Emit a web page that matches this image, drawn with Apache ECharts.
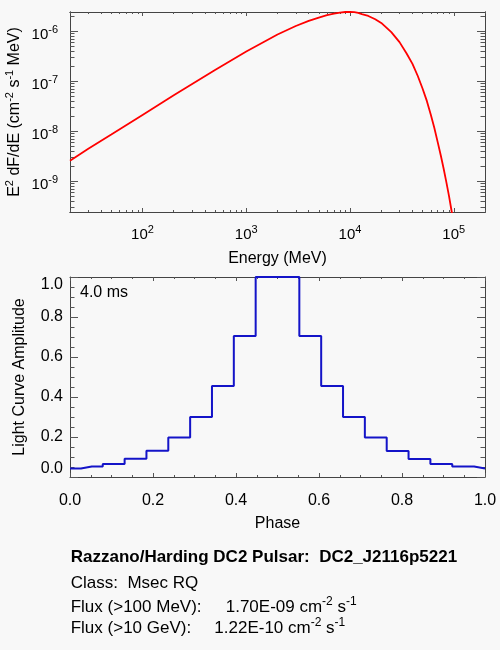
<!DOCTYPE html>
<html>
<head>
<meta charset="utf-8">
<script src="https://cdn.jsdelivr.net/npm/echarts@6/dist/echarts.min.js"></script>
<style>
html, body { margin: 0; padding: 0; background: #f8f8f8; }
#chart { width: 500px; height: 650px; }
</style>
</head>
<body>
<div id="chart"></div>
<script>
// spectrum: energy (MeV) and E^2 dF/dE
var energy = [20, 30, 50, 100, 200, 500, 1000, 2000, 3000, 4000, 5000, 6000, 7000, 8000, 9000, 10000,
    11000, 12000, 13000, 15000, 17500, 20000, 25000, 30000, 35000, 40000, 45000, 50000, 55000,
    60000, 65000, 70000, 75000, 80000, 85000, 90000, 95000, 100000];
var e2dfde = [2.55e-9, 4.4e-9, 8.5e-9, 2.1e-8, 5.2e-8, 1.66e-7, 3.9e-7, 8.5e-7, 1.26e-6, 1.60e-6, 1.86e-6, 2.07e-6, 2.22e-6, 2.33e-6, 2.40e-6, 2.40e-6,
    2.38e-6, 2.30e-6, 2.17e-6, 2.0e-6, 1.72e-6, 1.45e-6, 9.5e-7, 6.0e-7, 3.6e-7, 2.2e-7, 1.26e-7, 7.1e-8, 4.0e-8,
    2.14e-8, 1.15e-8, 6.0e-9, 3.24e-9, 1.74e-9, 9.3e-10, 5.0e-10, 2.6e-10, 1.4e-10];

// light curve (histogram, one value per phase bin centre)
var phase = [0, 0.0526, 0.1053, 0.1579, 0.2105, 0.2632, 0.3158, 0.3684, 0.4211, 0.4737,
    0.5263, 0.5789, 0.6316, 0.6842, 0.7368, 0.7895, 0.8421, 0.8947, 0.9474, 1.0];
var amplitude = [0.042, 0.052, 0.065, 0.091, 0.131, 0.198, 0.300, 0.455, 0.705, 1.0,
    1.0, 0.705, 0.455, 0.300, 0.198, 0.130, 0.090, 0.065, 0.052, 0.043];

// tick labels
var energyTicks = [100, 1000, 10000, 100000];
var fluxTicks = [1e-9, 1e-8, 1e-7, 1e-6];
var phaseTicks = [0, 0.2, 0.4, 0.6, 0.8, 1.0];
var ampTicks = [0, 0.2, 0.4, 0.6, 0.8, 1.0];

var FONT = 'Liberation Sans, Arial, Helvetica, sans-serif';
var LINE = '#444';
var TICK = '#555';

// 2..9 x 10^n between two decades, for the log minor ticks
function minorsOf(nFrom, nTo) {
    var out = [];
    for (var n = nFrom; n <= nTo; n++) {
        for (var k = 2; k <= 9; k++) out.push(k * Math.pow(10, n));
    }
    return out;
}

function powLabel(v) {
    var n = Math.round(Math.log10(v));
    return '10{sup|' + n + '}';
}

var supRich = { sup: { fontSize: 11, lineHeight: 10, verticalAlign: 'top', fontFamily: FONT, color: '#000' } };

// tick lengths like IDL: ticks on the y axes are longer (2% of the plot width)
function tickLen(pos, minor) {
    var vertical = (pos === 'left' || pos === 'right');
    if (vertical) return minor ? 4.5 : 8;
    return minor ? 2 : 4;
}

function baseAxis(extra) {
    var a = {
        gridIndex: 0,
        splitLine: { show: false },
        axisLine: { show: true, onZero: false, lineStyle: { color: LINE, width: 1 } },
        axisTick: { show: true, inside: true, length: 6, lineStyle: { color: TICK } },
        axisLabel: { show: false },
        minorTick: { show: false },
        nameMoveOverlap: false,
        nameTextStyle: { fontFamily: FONT, fontSize: 16, color: '#000' }
    };
    for (var k in extra) a[k] = extra[k];
    return a;
}

// log axis pair (major+labels, minor) on one side
function logAxes(grid, pos, min, max, majors, minors, labelOpts, nameOpts) {
    var major = baseAxis({
        gridIndex: grid, type: 'log', logBase: 10, position: pos, min: min, max: max,
        axisTick: { show: true, inside: true, length: tickLen(pos, false), customValues: majors, lineStyle: { color: TICK } }
    });
    if (labelOpts) {
        major.axisLabel = Object.assign({
            show: true, customValues: majors, formatter: powLabel,
            fontFamily: FONT, fontSize: 15, color: '#000', lineHeight: 22, rich: supRich
        }, labelOpts);
    }
    if (nameOpts) Object.assign(major, nameOpts);
    var minor = baseAxis({
        gridIndex: grid, type: 'log', logBase: 10, position: pos, min: min, max: max,
        axisTick: { show: true, inside: true, length: tickLen(pos, true), customValues: minors, lineStyle: { color: TICK } }
    });
    return [major, minor];
}

function linAxis(grid, pos, labelOpts, nameOpts) {
    var a = baseAxis({
        gridIndex: grid, type: 'value', position: pos, min: 0, max: 1, interval: 0.2,
        axisTick: { show: true, inside: true, length: tickLen(pos, false), lineStyle: { color: TICK } },
        minorTick: { show: true, splitNumber: 4, length: tickLen(pos, true), lineStyle: { color: TICK } }
    });
    if (labelOpts) {
        a.axisLabel = Object.assign({
            show: true, fontFamily: FONT, fontSize: 16, color: '#000',
            formatter: function (v) { return v.toFixed(1); }
        }, labelOpts);
    }
    if (nameOpts) Object.assign(a, nameOpts);
    return a;
}

var eMinors = minorsOf(1, 5);
var fMinors = minorsOf(-10, -6);

var xAxes = [].concat(
    logAxes(0, 'bottom', 20, 2e5, energyTicks, eMinors, { margin: 12 },
        { name: 'Energy (MeV)', nameLocation: 'middle', nameGap: 39,
          nameTextStyle: { fontFamily: FONT, fontSize: 16, color: '#000' } }),
    logAxes(0, 'top', 20, 2e5, energyTicks, eMinors, null, null),
    [linAxis(1, 'bottom', { margin: 16, customValues: phaseTicks },
        { name: 'Phase', nameLocation: 'middle', nameGap: 39,
          nameTextStyle: { fontFamily: FONT, fontSize: 16, color: '#000' } }),
     linAxis(1, 'top', null, null)]
);

var yAxes = [].concat(
    logAxes(0, 'left', 2.4e-10, 2.4e-6, fluxTicks, fMinors, { margin: 12, padding: [8, 0, 0, 0] },
        { name: 'E{sup|2} dF/dE (cm{sup|-2} s{sup|-1} MeV)', nameLocation: 'middle', nameGap: 44, nameRotate: 90,
          nameTextStyle: { fontFamily: FONT, fontSize: 16, color: '#000', lineHeight: 22, rich: supRich } }),
    logAxes(0, 'right', 2.4e-10, 2.4e-6, fluxTicks, fMinors, null, null),
    [linAxis(1, 'left', { margin: 7, customValues: ampTicks, verticalAlignMinLabel: 'bottom', verticalAlignMaxLabel: 'top' },
        { name: 'Light Curve Amplitude', nameLocation: 'middle', nameGap: 42, nameRotate: 90,
          nameTextStyle: { fontFamily: FONT, fontSize: 16, color: '#000' } }),
     linAxis(1, 'right', null, null)]
);

var textRich = { sup: { fontSize: 12, lineHeight: 10, verticalAlign: 'top', fontFamily: FONT, fill: '#000' } };

function txt(x, y, s, bold) {
    return {
        type: 'text', x: x, y: y, silent: true,
        style: {
            text: s, fontFamily: FONT, fontSize: 17, fontWeight: bold ? 'bold' : 'normal',
            fill: '#000', verticalAlign: 'middle', lineHeight: 22, rich: textRich
        }
    };
}

var chart = echarts.init(document.getElementById('chart'));
chart.setOption({
    animation: false,
    backgroundColor: '#f8f8f8',
    grid: [
        { left: 70, top: 12, width: 415, height: 200, outerBoundsMode: 'none', containLabel: false },
        { left: 70, top: 277, width: 415, height: 200, outerBoundsMode: 'none', containLabel: false }
    ],
    xAxis: xAxes,
    yAxis: yAxes,
    series: [
        {
            type: 'line', xAxisIndex: 0, yAxisIndex: 0,
            data: energy.map(function (e, i) { return [e, e2dfde[i]]; }),
            showSymbol: false, smooth: false, clip: true,
            lineStyle: { color: '#ff0000', width: 1.8 }
        },
        {
            type: 'line', xAxisIndex: 4, yAxisIndex: 4, step: 'middle',
            data: phase.map(function (p, i) { return [p, amplitude[i]]; }),
            showSymbol: false, clip: true,
            lineStyle: { color: '#1414c8', width: 2 }
        }
    ],
    graphic: { elements: [
        { type: 'text', x: 80, y: 293, silent: true,
          style: { text: '4.0 ms', fontFamily: FONT, fontSize: 16, fill: '#000', verticalAlign: 'middle' } },
        txt(70.7, 557, 'Razzano/Harding DC2 Pulsar:  DC2_J2116p5221', true),
        txt(70.7, 583, 'Class:  Msec RQ', false),
        txt(70.7, 607, 'Flux (>100 MeV):', false),
        txt(225.7, 607, '1.70E-09 cm{sup|-2} s{sup|-1}', false),
        txt(70.7, 628, 'Flux (>10 GeV):', false),
        txt(214.3, 628, '1.22E-10 cm{sup|-2} s{sup|-1}', false)
    ] }
});
</script>
</body>
</html>
